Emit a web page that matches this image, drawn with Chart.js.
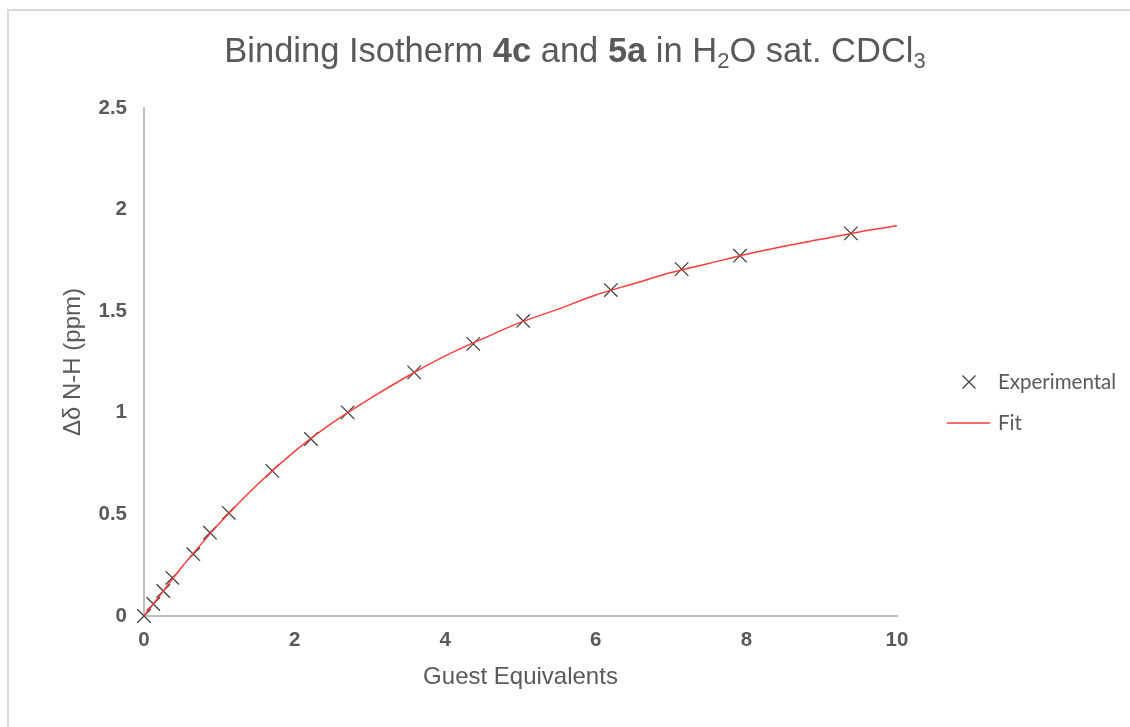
<!DOCTYPE html>
<html>
<head>
<meta charset="utf-8">
<script src="https://cdn.jsdelivr.net/npm/chart.js@4.4.1/dist/chart.umd.min.js"></script>
<style>
  html, body { margin: 0; padding: 0; background: #ffffff; }
  #wrap { position: relative; width: 1130px; height: 727px; overflow: hidden; }
  #frame { position: absolute; left: 7px; top: 9px; width: 1200px; height: 800px;
           border-top: 2px solid #d9d9d9; border-left: 2px solid #d9d9d9; }
  #title { position: absolute; left: 0; width: 1150px; top: 30px; text-align: center;
           font-family: "Liberation Sans", Arial, sans-serif; font-size: 34.5px; color: #595959;
           line-height: 40px; white-space: nowrap; }
  #title b { font-weight: bold; }
  #title sub { font-size: 22px; vertical-align: -6px; line-height: 0; }
  canvas { position: absolute; left: 0; top: 0; }
</style>
</head>
<body>
<div id="wrap">
  <div id="frame"></div>
  <canvas id="c" width="1130" height="727"></canvas>
  <div id="title">Binding Isotherm <b>4c</b> and <b>5a</b> in H<sub>2</sub>O sat. CDCl<sub>3</sub></div>
</div>
<script>
// Experimental data (Guest Equivalents vs Δδ N-H in ppm)
const expX = [0, 0.124, 0.256, 0.376, 0.655, 0.876, 1.125, 1.704, 2.218, 2.705, 3.588, 4.373, 5.036, 6.20, 7.14, 7.915, 9.388];
const expY = [0, 0.059, 0.123, 0.188, 0.304, 0.410, 0.508, 0.714, 0.871, 1.002, 1.199, 1.339, 1.452, 1.604, 1.707, 1.773, 1.883];
// Fit curve
const fitX = [0, 0.25, 0.5, 0.75, 1, 1.5, 2, 2.5, 3, 3.5, 4, 4.5, 5, 5.5, 6, 6.5, 7, 7.5, 8, 8.5, 9, 9.5, 10];
const fitY = [0, 0.12, 0.24, 0.35, 0.455, 0.645, 0.81, 0.95, 1.07, 1.18, 1.28, 1.365, 1.445, 1.51, 1.58, 1.635, 1.69, 1.735, 1.78, 1.82, 1.855, 1.89, 1.92];
const xTicks = [0, 2, 4, 6, 8, 10];
const yTicks = [0, 0.5, 1, 1.5, 2, 2.5];
const xTickLabels = ['0', '2', '4', '6', '8', '10'];
const yTickLabels = ['0', '0.5', '1', '1.5', '2', '2.5'];
const seriesNames = ['Experimental', 'Fit'];
const xTitle = 'Guest Equivalents';
const yTitle = 'Δδ N-H (ppm)';

const textColor = '#595959';
const markColor = '#3a3a3a';
const fitColor = '#ff3c3c';
const axisColor = '#bfbfbf';

const legendPlugin = {
  id: 'customLegend',
  afterDraw(chart) {
    const ctx = chart.ctx;
    ctx.save();
    const cx = 969, cy = 382, r = 6.5;
    ctx.strokeStyle = markColor; ctx.lineWidth = 1.2;
    ctx.beginPath();
    ctx.moveTo(cx - r, cy - r); ctx.lineTo(cx + r, cy + r);
    ctx.moveTo(cx - r, cy + r); ctx.lineTo(cx + r, cy - r);
    ctx.stroke();
    ctx.strokeStyle = fitColor; ctx.lineWidth = 1.5;
    ctx.beginPath(); ctx.moveTo(947, 423); ctx.lineTo(990, 423); ctx.stroke();
    ctx.fillStyle = textColor;
    ctx.font = '20.5px Lato, "Open Sans", sans-serif';
    ctx.textBaseline = 'middle'; ctx.textAlign = 'left';
    ctx.fillText(seriesNames[0], 998, 382);
    ctx.fillText(seriesNames[1], 998, 423);
    ctx.restore();
  }
};

new Chart(document.getElementById('c'), {
  type: 'scatter',
  data: {
    datasets: [
      {
        label: seriesNames[1],
        data: fitX.map((x, i) => ({ x: x, y: fitY[i] })),
        showLine: true,
        borderColor: fitColor,
        borderWidth: 1.5,
        pointRadius: 0,
        pointHoverRadius: 0,
        cubicInterpolationMode: 'monotone',
        fill: false,
        clip: false,
        order: 1
      },
      {
        label: seriesNames[0],
        data: expX.map((x, i) => ({ x: x, y: expY[i] })),
        showLine: false,
        pointStyle: 'crossRot',
        pointRadius: 9.5,
        pointBorderWidth: 1.2,
        borderColor: markColor,
        backgroundColor: markColor,
        clip: false,
        order: 2
      }
    ]
  },
  options: {
    responsive: false,
    animation: false,
    layout: { padding: { top: 108, right: 233, bottom: 0, left: 0 } },
    plugins: { legend: { display: false }, tooltip: { enabled: false }, title: { display: false } },
    scales: {
      x: {
        type: 'linear', min: 0, max: 10,
        afterFit(s) { s.height = 111; },
        afterBuildTicks(s) { s.ticks = xTicks.map(v => ({ value: v })); },
        grid: { display: false, drawTicks: false },
        border: { display: true, color: axisColor, width: 2 },
        ticks: { color: textColor, padding: 12,
                 callback: (v) => xTickLabels[xTicks.indexOf(v)],
                 font: { family: '"Liberation Sans", Arial', size: 20.5, weight: 'bold' } },
        title: { display: true, text: xTitle, color: textColor, padding: { top: 0, bottom: 35.6 },
                 font: { family: '"Liberation Sans", Arial', size: 24 } }
      },
      y: {
        type: 'linear', min: 0, max: 2.5,
        afterFit(s) { s.width = 144; },
        afterBuildTicks(s) { s.ticks = yTicks.map(v => ({ value: v })); },
        grid: { display: false, drawTicks: false },
        border: { display: true, color: axisColor, width: 2 },
        ticks: { color: textColor, padding: 17,
                 callback: (v) => yTickLabels[yTicks.indexOf(v)],
                 font: { family: '"Liberation Sans", Arial', size: 20.5, weight: 'bold' } },
        title: { display: true, text: yTitle, color: textColor, padding: { top: 58.6, bottom: 0 },
                 font: { family: '"Liberation Sans", Arial', size: 24 } }
      }
    }
  },
  plugins: [legendPlugin]
});
</script>
</body>
</html>
